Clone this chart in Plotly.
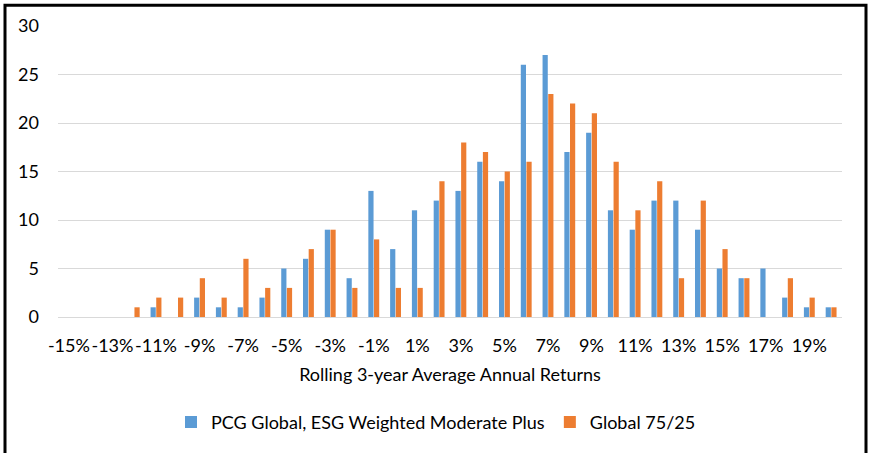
import plotly.graph_objects as go

categories = [f"{v}%" for v in range(-15, 21)]
pcg_values = [0, 0, 0, 0, 1, 0, 2, 1, 1, 2, 5, 6, 9, 4, 13, 7, 11, 12, 13, 16, 14, 26, 27, 17, 19, 11, 9, 12, 12, 9, 5, 4, 5, 2, 1, 1]
global_values = [0, 0, 0, 1, 2, 2, 4, 2, 6, 3, 3, 7, 9, 3, 8, 3, 3, 14, 18, 17, 15, 16, 23, 22, 21, 16, 11, 14, 4, 12, 7, 4, 0, 4, 2, 1]
tick_labels = [f"{v}%" for v in range(-15, 20, 2)]

FONT = "Lato"
FS = 18
L, R, T, B = 58, 28, 26, 134
PW, PH = 870 - L - R, 453 - T - B

def px(x):
    return (x - L) / PW

def py(y):
    return (453 - B - y) / PH

fig = go.Figure()
fig.add_trace(go.Bar(x=categories, y=pcg_values, name="PCG Global, ESG Weighted Moderate Plus",
                     marker=dict(color="#5B9BD5", line=dict(width=0))))
fig.add_trace(go.Bar(x=categories, y=global_values, name="Global 75/25",
                     marker=dict(color="#ED7D31", line=dict(width=0))))

fig.update_layout(
    width=870, height=453,
    margin=dict(l=L, r=R, t=T, b=B),
    paper_bgcolor="white", plot_bgcolor="white",
    barmode="group", bargap=0.48, bargroupgap=0.08,
    font=dict(family=FONT, size=FS, color="#000000"),
    showlegend=True,
    legend=dict(orientation="h", x=px(436), xanchor="center", y=py(425), yanchor="middle",
                font=dict(family=FONT, size=FS), itemwidth=30, traceorder="normal"),
    xaxis=dict(type="category", tickvals=tick_labels, ticktext=tick_labels, tickangle=0,
               showgrid=False, showline=False, zeroline=False, ticks="",
               tickfont=dict(family=FONT, size=FS), ticklabelstandoff=16,
               title=dict(text="Rolling 3-year Average Annual Returns", font=dict(family=FONT, size=FS), standoff=13)),
    yaxis=dict(range=[0, 30], dtick=5, showgrid=True, gridcolor="#D9D9D9", gridwidth=1,
               zeroline=True, zerolinecolor="#D9D9D9", zerolinewidth=1, showline=False, ticks="",
               tickfont=dict(family=FONT, size=FS), ticklabelstandoff=18),
    shapes=[dict(type="rect", xref="paper", yref="paper",
                 x0=px(5), x1=px(866), y0=py(470), y1=py(5),
                 line=dict(color="black", width=3), fillcolor="rgba(0,0,0,0)", layer="above")],
)

fig.write_html("out.html", config={"displayModeBar": False},
               post_script="document.body.style.margin='0px';")
